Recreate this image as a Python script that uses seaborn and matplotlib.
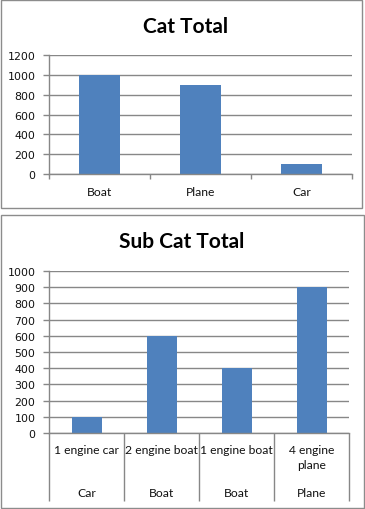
import matplotlib
matplotlib.use("Agg")
import matplotlib.pyplot as plt
import seaborn as sns
import pandas as pd
from matplotlib.patches import Rectangle

# ---- data ----
cat_labels = ["Boat", "Plane", "Car"]
cat_values = [1000, 900, 100]
sub_labels = ["1 engine car", "2 engine boat", "1 engine boat", "4 engine\nplane"]
sub_groups = ["Car", "Boat", "Boat", "Plane"]
sub_values = [100, 600, 400, 900]
cat_yticks = [0, 200, 400, 600, 800, 1000, 1200]
sub_yticks = [0, 100, 200, 300, 400, 500, 600, 700, 800, 900, 1000]

sns.set_theme(style="white")
plt.rcParams["font.family"] = ["DejaVu Sans"]

W, H = 365, 510
DPI = 100
fig = plt.figure(figsize=(W / DPI, H / DPI), dpi=DPI)
fig.patch.set_facecolor("white")

BAR = "#4F81BD"
GRID = "#878787"
FRAME = "#8C8C8C"
LABEL_FONT = ["Lato", "DejaVu Sans"]
PT = 72.0 / DPI  # points per pixel


def px_axes(l, t, r, b):
    return fig.add_axes([l / W, (H - b) / H, (r - l) / W, (b - t) / H])


# chart frames
fig.add_artist(Rectangle((0.5 / W, (H - 208.5) / H), 361.5 / W, 208 / H,
                         transform=fig.transFigure, fill=False, ec=FRAME, lw=1.0))
fig.add_artist(Rectangle((1.5 / W, (H - 508.5) / H), 362 / W, 293 / H,
                         transform=fig.transFigure, fill=False, ec=FRAME, lw=1.0))


def style_axes(ax, yticks, n):
    ax.set_xlim(-0.5, n - 0.5)
    ax.set_ylim(yticks[0], yticks[-1])
    ax.set_yticks(yticks)
    ax.set_yticklabels([str(v) for v in yticks], fontsize=7.9, color="#111111")
    ax.yaxis.grid(True, color=GRID, lw=1.0)
    ax.set_axisbelow(True)
    for s in ["top", "right"]:
        ax.spines[s].set_visible(False)
    for s in ["left", "bottom"]:
        ax.spines[s].set_color(GRID)
        ax.spines[s].set_linewidth(1.0)
    ax.tick_params(axis="y", which="major", left=True, length=6 * PT, width=1.0,
                   color=GRID, pad=5.5)
    ax.set_xlabel("")
    ax.set_ylabel("")
    ax.set_facecolor("white")


# ---- top chart ----
ax1 = px_axes(49, 56, 352, 175)
df1 = pd.DataFrame({"cat": cat_labels, "val": cat_values})
sns.barplot(data=df1, x="cat", y="val", color=BAR, saturation=1, width=0.4, ax=ax1,
            linewidth=0, edgecolor=BAR)
style_axes(ax1, cat_yticks, len(cat_labels))
ax1.set_xticks([i - 0.5 for i in range(len(cat_labels) + 1)])
ax1.set_xticklabels([])
ax1.tick_params(axis="x", which="major", bottom=True, length=5 * PT, width=1.0, color=GRID)
for i, lab in enumerate(cat_labels):
    ax1.annotate(lab, xy=(i, 0), xycoords=("data", "axes fraction"),
                 xytext=(0, -18 * PT), textcoords="offset points",
                 ha="center", va="center", fontsize=8.7, family=LABEL_FONT, color="#111111")
fig.text(186 / W, 1 - 27 / H, "Cat Total", ha="center", va="center",
         fontsize=15, fontweight="bold", family=LABEL_FONT, color="black")

# ---- bottom chart ----
ax2 = px_axes(49, 272, 349, 434)
df2 = pd.DataFrame({"sub": [f"{s}|{i}" for i, s in enumerate(sub_labels)], "val": sub_values})
sns.barplot(data=df2, x="sub", y="val", color=BAR, saturation=1, width=0.4, ax=ax2,
            linewidth=0, edgecolor=BAR)
style_axes(ax2, sub_yticks, len(sub_labels))
ax2.set_xticks([i - 0.5 for i in range(len(sub_labels) + 1)])
ax2.set_xticklabels([])
ax2.tick_params(axis="x", which="major", bottom=True, length=68 * PT, width=1.0, color=GRID)
for i, (lab, grp) in enumerate(zip(sub_labels, sub_groups)):
    ax2.annotate(lab, xy=(i, 0), xycoords=("data", "axes fraction"),
                 xytext=(0, -11 * PT), textcoords="offset points",
                 ha="center", va="top", fontsize=8.7, family=LABEL_FONT, color="#111111",
                 linespacing=1.4)
    ax2.annotate(grp, xy=(i, 0), xycoords=("data", "axes fraction"),
                 xytext=(0, -60 * PT), textcoords="offset points",
                 ha="center", va="center", fontsize=8.7, family=LABEL_FONT, color="#111111")
fig.text(182 / W, 1 - 242 / H, "Sub Cat Total", ha="center", va="center",
         fontsize=15, fontweight="bold", family=LABEL_FONT, color="black")

fig.savefig("out.png", dpi=DPI, facecolor="white")
